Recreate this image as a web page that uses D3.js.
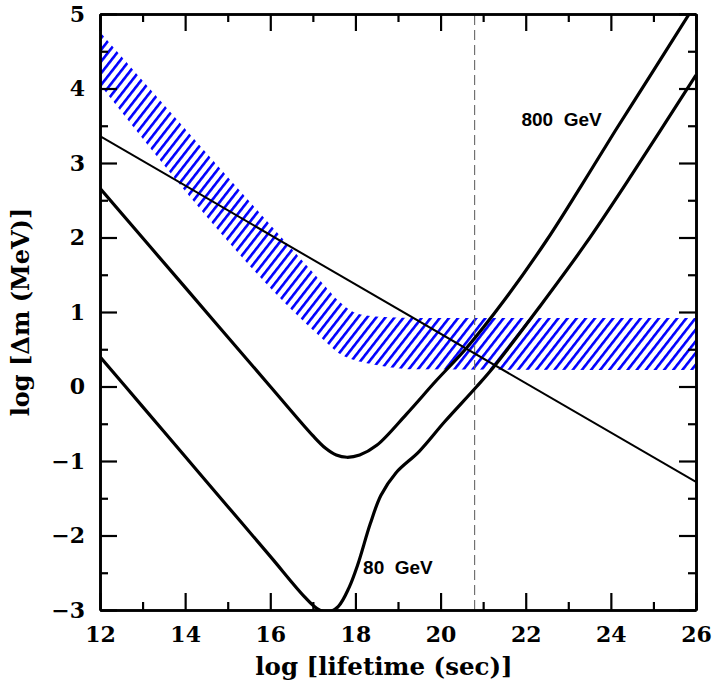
<!DOCTYPE html>
<html>
<head>
<meta charset="utf-8">
<script src="https://cdn.jsdelivr.net/npm/d3@7"></script>
<style>
  body { margin: 0; background: #fff; }
  svg { display: block; }
  .tick text { font-family: "DejaVu Serif", serif; font-weight: bold; font-size: 22px; fill: #000; }
</style>
</head>
<body>
<svg id="chart"></svg>
<script>
// axis ranges and ticks
const xDomain = [12, 26];
const yDomain = [-3, 5];
const xMajorTicks = [12, 14, 16, 18, 20, 22, 24, 26];
const xMinorTicks = [13, 15, 17, 19, 21, 23, 25];
const yMajorTicks = [-3, -2, -1, 0, 1, 2, 3, 4, 5];
const yMinorTicks = [-2.5, -1.5, -0.5, 0.5, 1.5, 2.5, 3.5, 4.5];

// thin straight line
const thinX = [12, 26];
const thinY = [3.36, -1.28];

// upper heavy curve (shallow minimum)
const upperX = [12, 14, 16, 17, 17.3, 17.55, 17.8, 18.1, 18.5, 19.2, 19.9, 20.6, 21.5, 22.5, 23.3, 24.1, 25.0, 25.84, 26];
const upperY = [2.66, 1.33, 0.0, -0.66, -0.83, -0.92, -0.95, -0.92, -0.79, -0.37, 0.08, 0.51, 1.16, 1.97, 2.69, 3.43, 4.24, 5.0, 5.14];

// lower heavy curve (deep minimum)
const lowerX = [12, 13, 14, 15, 16, 16.8, 17.1, 17.35, 17.6, 17.85, 18.05, 18.35, 18.6, 18.95, 19.5, 20.1, 20.85, 21.3, 22.3, 23.4, 24.5, 26];
const lowerY = [0.4, -0.27, -0.94, -1.61, -2.28, -2.82, -2.98, -3.03, -2.95, -2.7, -2.4, -1.84, -1.46, -1.16, -0.87, -0.47, 0.0, 0.3, 1.05, 1.91, 2.85, 4.18];

// hatched band
const bandX = [12, 17.3, 17.6, 17.95, 18.3, 18.8, 19.4, 26];
const bandTop = [4.76, 1.34, 1.15, 1.0, 0.95, 0.93, 0.92, 0.92];
const bandBottom = [4.05, 0.6, 0.45, 0.36, 0.31, 0.26, 0.23, 0.22];

// vertical dashed line
const dashX = 20.8;

// curve labels
const labels = [
  { text: "800  GeV", x: 21.9, y: 3.49 },
  { text: "80  GeV", x: 18.18, y: -2.52 }
];

const margin = { top: 14, right: 20, bottom: 75, left: 100 };
const width = 596;
const height = 596;

const svg = d3.select("#chart")
  .attr("width", 716)
  .attr("height", 685);

const g = svg.append("g")
  .attr("transform", "translate(" + margin.left + "," + margin.top + ")");

const x = d3.scaleLinear().domain(xDomain).range([0, width]);
const y = d3.scaleLinear().domain(yDomain).range([height, 0]);

// clip
svg.append("defs").append("clipPath").attr("id", "plotclip")
  .append("rect").attr("width", width).attr("height", height);

// hatch pattern
const pat = svg.select("defs").append("pattern")
  .attr("id", "hatch")
  .attr("patternUnits", "userSpaceOnUse")
  .attr("width", 7.2)
  .attr("height", 20)
  .attr("patternTransform", "rotate(38)");
pat.append("rect")
  .attr("x", 0).attr("y", 0)
  .attr("width", 2.6).attr("height", 20)
  .attr("fill", "#0000ff");

const plot = g.append("g").attr("clip-path", "url(#plotclip)");

// band
const bandData = bandX.map((d, i) => ({ x: d, y0: bandBottom[i], y1: bandTop[i] }));
plot.append("path")
  .datum(bandData)
  .attr("fill", "url(#hatch)")
  .attr("d", d3.area()
    .x(d => x(d.x))
    .y0(d => y(d.y0))
    .y1(d => y(d.y1))
    .curve(d3.curveMonotoneX));

// dashed line
plot.append("line")
  .attr("x1", x(dashX)).attr("x2", x(dashX))
  .attr("y1", y(yDomain[0])).attr("y2", y(yDomain[1]))
  .attr("stroke", "#666")
  .attr("stroke-width", 1.1)
  .attr("stroke-dasharray", "10,5");

const line = d3.line()
  .x(d => x(d[0]))
  .y(d => y(d[1]))
  .curve(d3.curveCatmullRom.alpha(0.5));

plot.append("path")
  .datum(d3.zip(thinX, thinY))
  .attr("fill", "none")
  .attr("stroke", "#000")
  .attr("stroke-width", 2)
  .attr("d", line);

plot.append("path")
  .datum(d3.zip(upperX, upperY))
  .attr("fill", "none")
  .attr("stroke", "#000")
  .attr("stroke-width", 3.2)
  .attr("stroke-linejoin", "round")
  .attr("d", line);

plot.append("path")
  .datum(d3.zip(lowerX, lowerY))
  .attr("fill", "none")
  .attr("stroke", "#000")
  .attr("stroke-width", 3.2)
  .attr("stroke-linejoin", "round")
  .attr("d", line);

// labels
g.selectAll("text.curve-label")
  .data(labels)
  .join("text")
  .attr("class", "curve-label")
  .attr("x", d => x(d.x))
  .attr("y", d => y(d.y))
  .attr("font-family", "Liberation Sans, Arial, sans-serif")
  .attr("font-weight", "bold")
  .attr("font-size", 19)
  .attr("fill", "#000")
  .style("white-space", "pre")
  .text(d => d.text);

// axes with inward ticks on all four sides
const fmt = d => (d < 0 ? "\u2212" + Math.abs(d) : String(d));

function styleAxis(sel) {
  sel.select(".domain").attr("stroke", "#000").attr("stroke-width", 2.6);
  sel.selectAll(".tick line").attr("stroke", "#000").attr("stroke-width", 2.2);
}

g.append("g")
  .attr("transform", "translate(0," + height + ")")
  .call(d3.axisBottom(x).tickValues(xMajorTicks).tickSize(-17).tickSizeOuter(0).tickPadding(16).tickFormat(fmt))
  .call(styleAxis);
g.append("g")
  .attr("transform", "translate(0," + height + ")")
  .call(d3.axisBottom(x).tickValues(xMinorTicks).tickSize(-8).tickSizeOuter(0).tickFormat(""))
  .call(styleAxis);
g.append("g")
  .call(d3.axisTop(x).tickValues(xMajorTicks).tickSize(-17).tickSizeOuter(0).tickFormat(""))
  .call(styleAxis);
g.append("g")
  .call(d3.axisTop(x).tickValues(xMinorTicks).tickSize(-8).tickSizeOuter(0).tickFormat(""))
  .call(styleAxis);

g.append("g")
  .call(d3.axisLeft(y).tickValues(yMajorTicks).tickSize(-17).tickSizeOuter(0).tickPadding(15).tickFormat(fmt))
  .call(styleAxis);
g.append("g")
  .call(d3.axisLeft(y).tickValues(yMinorTicks).tickSize(-8).tickSizeOuter(0).tickFormat(""))
  .call(styleAxis);
g.append("g")
  .attr("transform", "translate(" + width + ",0)")
  .call(d3.axisRight(y).tickValues(yMajorTicks).tickSize(-17).tickSizeOuter(0).tickFormat(""))
  .call(styleAxis);
g.append("g")
  .attr("transform", "translate(" + width + ",0)")
  .call(d3.axisRight(y).tickValues(yMinorTicks).tickSize(-8).tickSizeOuter(0).tickFormat(""))
  .call(styleAxis);

// axis titles
svg.append("text")
  .attr("x", margin.left + width / 2 - 14)
  .attr("y", 675)
  .attr("text-anchor", "middle")
  .attr("font-family", "DejaVu Serif, serif")
  .attr("font-weight", "bold")
  .attr("font-size", 24.5)
  .text("log [lifetime (sec)]");

svg.append("text")
  .attr("transform", "translate(29," + (margin.top + height / 2) + ") rotate(-90)")
  .attr("text-anchor", "middle")
  .attr("font-family", "DejaVu Serif, serif")
  .attr("font-weight", "bold")
  .attr("font-size", 24)
  .text("log [\u0394m (MeV)]");
</script>
</body>
</html>
